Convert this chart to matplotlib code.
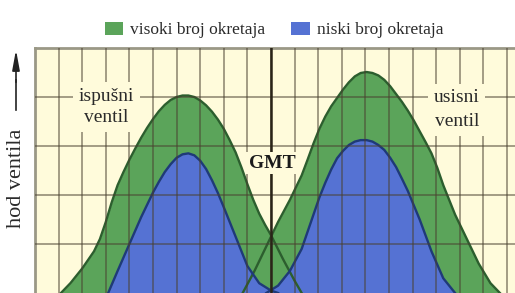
import matplotlib
matplotlib.use('Agg')
import numpy as np
import matplotlib.pyplot as plt
from matplotlib.patches import Patch

#------------------------------------------------------------------------------
# Data (x in grid columns, GMT at 10; y = valve lift in grid rows)
#------------------------------------------------------------------------------

# exhaust valve, high rpm
ex_high_x = [1.1, 1.5, 2.0, 2.5, 2.75, 3.0, 3.25, 3.5, 3.75, 4.0, 4.25, 4.5, 4.75,
             5.0, 5.25, 5.5, 5.75, 6.0, 6.25, 6.5, 6.75, 7.0, 7.25, 7.5, 7.75,
             8.0, 8.25, 8.5, 8.75, 9.0, 9.25, 9.5, 9.75, 10.0, 10.5, 11.0, 11.3]
ex_high_y = [0, 0.2, 0.5, 0.85, 1.1, 1.45, 1.85, 2.2, 2.47, 2.72, 2.95, 3.17, 3.37,
             3.55, 3.71, 3.84, 3.94, 4.0, 4.03, 4.03, 4.0, 3.93, 3.83, 3.7, 3.54,
             3.35, 3.12, 2.87, 2.56, 2.22, 1.9, 1.62, 1.39, 1.18, 0.7, 0.25, 0]

# intake valve, high rpm
in_high_x = [8.8, 9.3, 9.8, 10.3, 10.8, 11.3, 11.55, 11.8, 12.05, 12.3, 12.55, 12.8,
             13.05, 13.3, 13.55, 13.8, 14.05, 14.3, 14.55, 14.8, 15.05, 15.3, 15.55,
             15.8, 16.05, 16.3, 16.55, 16.8, 17.05, 17.3, 17.8, 18.3, 18.8, 19.3, 19.7]
in_high_y = [0, 0.45, 0.95, 1.45, 1.9, 2.4, 2.72, 3.05, 3.35, 3.6, 3.81, 3.98,
             4.15, 4.3, 4.42, 4.49, 4.51, 4.49, 4.44, 4.35, 4.22, 4.06, 3.9,
             3.72, 3.52, 3.3, 3.08, 2.85, 2.55, 2.2, 1.6, 1.1, 0.6, 0.2, 0]

# exhaust valve, low rpm
ex_low_x = [3.1, 3.5, 4.0, 4.5, 5.0, 5.25, 5.5, 5.75, 6.0, 6.25, 6.5, 6.75, 7.0,
            7.25, 7.5, 7.75, 8.0, 8.5, 9.0, 9.5, 10.0, 10.3]
ex_low_y = [0, 0.45, 1.0, 1.55, 2.05, 2.27, 2.47, 2.63, 2.76, 2.83, 2.85, 2.81, 2.7,
            2.53, 2.3, 2.04, 1.75, 1.15, 0.55, 0.2, 0.05, 0]

# intake valve, low rpm
in_low_x = [9.8, 10.3, 10.8, 11.3, 11.8, 12.05, 12.3, 12.55, 12.8, 13.05, 13.3, 13.55,
            13.8, 14.05, 14.3, 14.55, 14.8, 15.05, 15.3, 15.55, 15.8, 16.3, 16.8,
            17.3, 17.8]
in_low_y = [0, 0.15, 0.45, 0.9, 1.6, 1.95, 2.25, 2.52, 2.75, 2.9, 3.02, 3.09,
            3.12, 3.12, 3.09, 3.02, 2.92, 2.76, 2.57, 2.33, 2.08, 1.5, 0.85,
            0.3, 0]

legend_labels = ['visoki broj okretaja', 'niski broj okretaja']

#------------------------------------------------------------------------------
# Style
#------------------------------------------------------------------------------

plt.rcParams['font.family'] = ['Liberation Serif', 'DejaVu Serif']

bg = '#fffbdb'
green = '#5ba45a'
green_edge = '#2c5e2e'
blue = '#5572d3'
blue_edge = '#1f3a78'
grid_col = '#4a4030'

W, H = 515, 293
fig = plt.figure(figsize=(W / 100, H / 100), dpi=100)
ax = fig.add_axes([35 / W, 0, 480 / W, 245 / H])
ax.set_facecolor(bg)

#------------------------------------------------------------------------------
# Curves
#------------------------------------------------------------------------------

ax.fill_between(ex_high_x, ex_high_y, color=green, lw=0, zorder=1)
ax.fill_between(in_high_x, in_high_y, color=green, lw=0, zorder=1)
ax.fill_between(ex_low_x, ex_low_y, color=blue, lw=0, zorder=1.2)
ax.fill_between(in_low_x, in_low_y, color=blue, lw=0, zorder=1.2)

for xs, ys, c in [(ex_high_x, ex_high_y, green_edge), (in_high_x, in_high_y, green_edge),
                  (ex_low_x, ex_low_y, blue_edge), (in_low_x, in_low_y, blue_edge)]:
    ax.plot(xs, ys, color=c, lw=1.7, zorder=2, solid_joinstyle='round')

#------------------------------------------------------------------------------
# Grid and axes
#------------------------------------------------------------------------------

ax.set_xlim(0, 480 / 23.6)
ax.set_ylim(0, 5)
ax.set_xticks(np.arange(1, 21))
ax.set_yticks(np.arange(1, 5))
ax.set_axisbelow(False)
ax.grid(True, color=grid_col, lw=1.3, alpha=0.55)
ax.tick_params(length=0, labelbottom=False, labelleft=False)
ax.axvline(10, color='#2a2418', lw=1.8, zorder=2.6)

for s in ['bottom', 'right']:
    ax.spines[s].set_visible(False)
for s in ['left', 'top']:
    ax.spines[s].set_color('#9a9886')
    ax.spines[s].set_linewidth(2)

box = dict(facecolor=bg, edgecolor='none', pad=4)
ax.text(3.03, 3.8, 'ispušni\nventil', fontsize=14, ha='center', va='center',
        linespacing=1.35, color='#2a2a2a', bbox=box, zorder=4)
ax.text(17.88, 3.74, 'usisni\nventil', fontsize=14, ha='center', va='center',
        linespacing=1.5, color='#2a2a2a', bbox=box, zorder=4)
ax.text(10.04, 2.65, 'GMT', fontsize=14, fontweight='bold', ha='center',
        va='center', color='#1a1a1a', bbox=dict(facecolor=bg, edgecolor='none', pad=2),
        zorder=4)

#------------------------------------------------------------------------------
# Y label with arrow, legend
#------------------------------------------------------------------------------

fig.text(17 / W, 1 - 178 / H, 'hod ventila', rotation=90, fontsize=16,
         ha='center', va='center', color='#2a2a2a')
fig.add_artist(plt.Line2D([16 / W, 16 / W], [1 - 110 / H, 1 - 80 / H],
                          color='#222222', lw=1.2))
ax.annotate('', xy=(16 / W, 1 - 47 / H), xytext=(16 / W, 1 - 85 / H),
            xycoords='figure fraction', textcoords='figure fraction',
            arrowprops=dict(arrowstyle='-|>,head_length=1.2,head_width=0.22',
                            color='#222222', lw=1.2))

handles = [Patch(facecolor=green, edgecolor='none'),
           Patch(facecolor=blue, edgecolor='none')]
fig.legend(handles, legend_labels, loc='center', bbox_to_anchor=(274 / W, 1 - 30 / H),
           ncol=2, frameon=False, fontsize=12.5, handlelength=1.05,
           handleheight=0.75, handletextpad=0.4, columnspacing=1.5,
           labelcolor='#2a2a2a')

fig.savefig('out.png', dpi=100, facecolor='white')
